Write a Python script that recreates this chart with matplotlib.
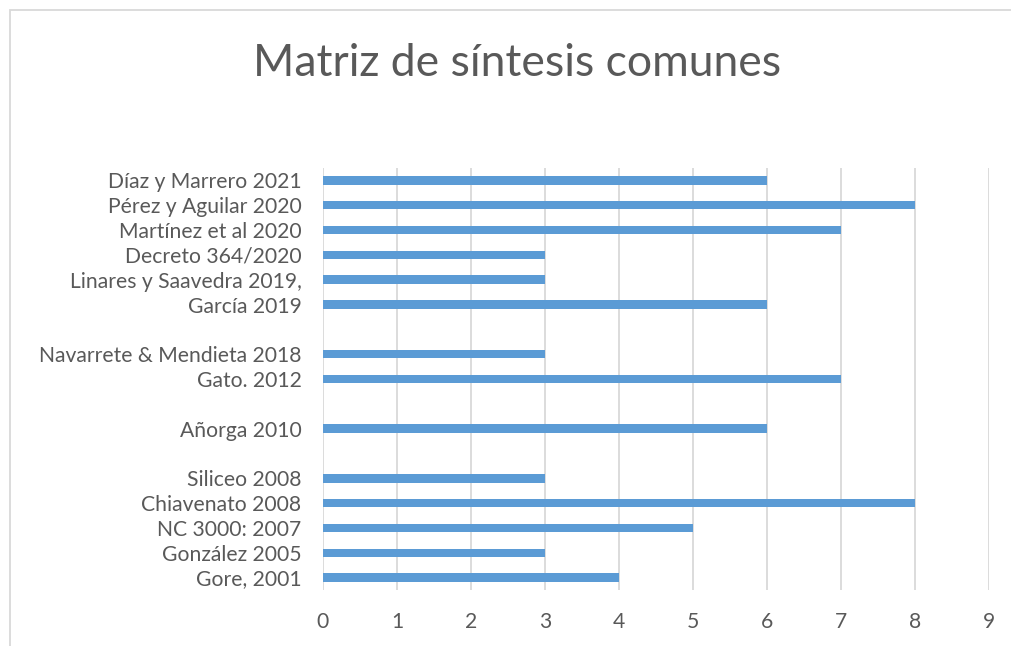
import matplotlib.pyplot as plt
from matplotlib.patches import Rectangle

# Categories top to bottom (blank entries are empty rows in the original)
labels = ["Díaz y Marrero 2021", "Pérez y Aguilar 2020", "Martínez et al 2020",
          "Decreto 364/2020", "Linares y Saavedra 2019,", "García 2019", "",
          "Navarrete & Mendieta 2018", "Gato. 2012", "", "Añorga 2010", "",
          "Siliceo 2008", "Chiavenato 2008", "NC 3000: 2007", "González 2005",
          "Gore, 2001"]
values = [6, 8, 7, 3, 3, 6, 0, 3, 7, 0, 6, 0, 3, 8, 5, 3, 4]
xticks = list(range(10))

plt.rcParams['font.family'] = ['Lato', 'DejaVu Sans']
text_color = "#595959"

fig = plt.figure(figsize=(10.12, 6.46), dpi=100)
W, H = 1012, 646
ax = fig.add_axes([323 / W, 1 - 590 / H, (989 - 323) / W, (590 - 168) / H])

pos = list(range(len(labels)))
ax.barh(pos, values, height=0.34, color="#5B9BD5", zorder=3)
ax.set_ylim(len(labels) - 0.5, -0.5)
ax.set_xlim(0, 9)
ax.set_xticks(xticks)
ax.set_yticks(pos)
ax.set_yticklabels(labels)
ax.grid(axis="x", color="#D9D9D9", linewidth=1.3, zorder=0)
for s in ax.spines.values():
    s.set_visible(False)
ax.tick_params(axis="both", length=0, labelsize=15.2, colors=text_color)
ax.tick_params(axis="y", pad=15.5)
ax.tick_params(axis="x", pad=16)

fig.text(517 / W, 1 - 63 / H, "Matriz de síntesis comunes", ha="center", va="center",
         fontsize=32, color=text_color)

# chart frame
fig.patches.append(Rectangle((10 / W, -0.1), 1.2, 1 - 10 / H + 0.1, transform=fig.transFigure,
                             fill=False, edgecolor="#D9D9D9", linewidth=1.3))

fig.savefig("out.png", dpi=100)
